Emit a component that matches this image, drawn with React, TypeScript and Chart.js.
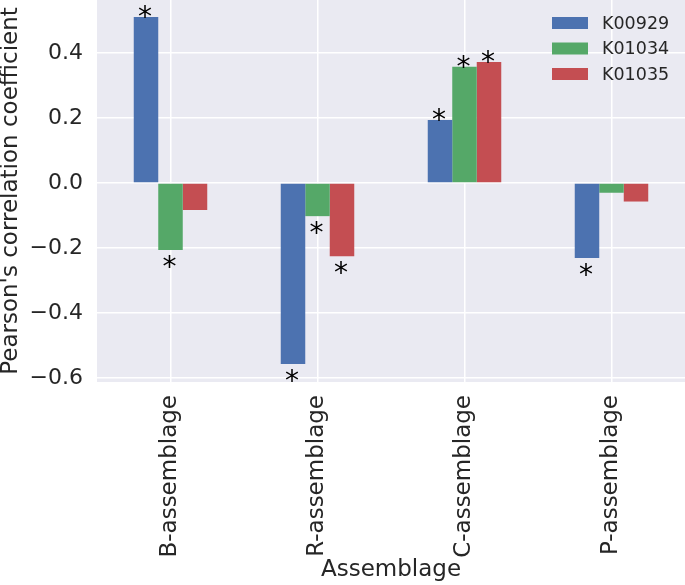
import React, { useEffect, useRef } from "react";
import { Chart, registerables } from "chart.js";

Chart.register(...registerables);

const categories = ["B-assemblage", "R-assemblage", "C-assemblage", "P-assemblage"];
const seriesNames = ["K00929", "K01034", "K01035"];
const k00929 = [0.511, -0.557, 0.194, -0.231];
const k01034 = [-0.206, -0.102, 0.358, -0.03];
const k01035 = [-0.083, -0.225, 0.372, -0.057];
const sig00929 = [true, true, true, true];
const sig01034 = [true, true, true, false];
const sig01035 = [false, true, true, false];
const yTicks = [-0.6, -0.4, -0.2, 0.0, 0.2, 0.4];
const yMin = -0.6123;
const yMax = 0.5631;

const colors = ["#4C72B0", "#55A868", "#C44E52"];
const FONT = "'DejaVu Sans', sans-serif";
const TEXT = "#262626";

export default function App() {
  const ref = useRef<HTMLCanvasElement | null>(null);

  useEffect(() => {
    document.body.style.margin = "0";
    const canvas = ref.current;
    if (!canvas) return;
    const sigs = [sig00929, sig01034, sig01035];

    const bgPlugin = {
      id: "bg",
      beforeDraw(chart: any) {
        const { ctx, chartArea } = chart;
        ctx.save();
        ctx.fillStyle = "#EAEAF2";
        ctx.fillRect(chartArea.left, chartArea.top, chartArea.right - chartArea.left, chartArea.bottom - chartArea.top);
        ctx.restore();
      },
    };

    const starPlugin = {
      id: "stars",
      afterDatasetsDraw(chart: any) {
        const ctx = chart.ctx;
        ctx.save();
        ctx.fillStyle = "#000000";
        ctx.font = `28px ${FONT}`;
        ctx.textAlign = "center";
        ctx.textBaseline = "middle";
        chart.data.datasets.forEach((ds: any, di: number) => {
          const meta = chart.getDatasetMeta(di);
          meta.data.forEach((bar: any, i: number) => {
            if (!sigs[di][i]) return;
            const v = ds.data[i];
            const cy = v >= 0 ? bar.y - 5 : bar.y + 12;
            ctx.fillText("*", bar.x - 1, cy + 7);
          });
        });
        ctx.restore();
      },
    };

    const legendPlugin = {
      id: "customLegend",
      afterDraw(chart: any) {
        const ctx = chart.ctx;
        ctx.save();
        ctx.font = `17.5px ${FONT}`;
        ctx.textBaseline = "middle";
        ctx.textAlign = "left";
        chart.data.datasets.forEach((ds: any, i: number) => {
          const cy = 23 + i * 25.5;
          ctx.fillStyle = ds.backgroundColor;
          ctx.fillRect(552, cy - 6, 36, 12);
          ctx.fillStyle = TEXT;
          ctx.fillText(ds.label, 602, cy + 1);
        });
        ctx.restore();
      },
    };

    const chart = new Chart(canvas, {
      type: "bar",
      data: {
        labels: categories,
        datasets: [k00929, k01034, k01035].map((d, i) => ({
          label: seriesNames[i],
          data: d,
          backgroundColor: colors[i],
          borderWidth: 0,
          categoryPercentage: 0.5,
          barPercentage: 1.0,
        })),
      },
      options: {
        responsive: false,
        animation: false,
        layout: { padding: 0 },
        plugins: {
          legend: { display: false },
          tooltip: { enabled: false },
          title: { display: false },
        },
        scales: {
          x: {
            grid: { display: true, offset: false, color: "#FFFFFF", lineWidth: 1.5, drawTicks: false },
            border: { display: false },
            ticks: {
              autoSkip: false,
              minRotation: 90,
              maxRotation: 90,
              padding: 13,
              color: TEXT,
              font: { family: FONT, size: 23 },
            },
            title: {
              display: true,
              text: "Assemblage",
              color: TEXT,
              font: { family: FONT, size: 23, lineHeight: 1 },
              padding: { top: 0, bottom: 3 },
            },
            afterFit(scale: any) {
              scale.height = 203;
              scale.paddingLeft = 0;
              scale.paddingRight = 0;
            },
          },
          y: {
            min: yMin,
            max: yMax,
            grid: { color: "#FFFFFF", lineWidth: 1.5, drawTicks: false },
            border: { display: false },
            ticks: {
              padding: 14,
              color: TEXT,
              font: { family: FONT, size: 22 },
              callback: (v: any) => Number(v).toFixed(1).replace("-", "\u2212"),
            },
            afterBuildTicks(scale: any) {
              scale.ticks = yTicks.map((v) => ({ value: v }));
            },
            title: {
              display: true,
              text: "Pearson's correlation coefficient",
              color: TEXT,
              font: { family: FONT, size: 23, lineHeight: 1 },
              padding: { top: 0, bottom: 0 },
            },
            afterFit(scale: any) {
              scale.width = 97;
              scale.paddingTop = 0;
              scale.paddingBottom = 0;
            },
          },
        },
      },
      plugins: [bgPlugin, starPlugin, legendPlugin],
    });

    return () => chart.destroy();
  }, []);

  return (
    <div style={{ width: 685, height: 585, position: "relative" }}>
      <canvas ref={ref} width={685} height={585} />
    </div>
  );
}
